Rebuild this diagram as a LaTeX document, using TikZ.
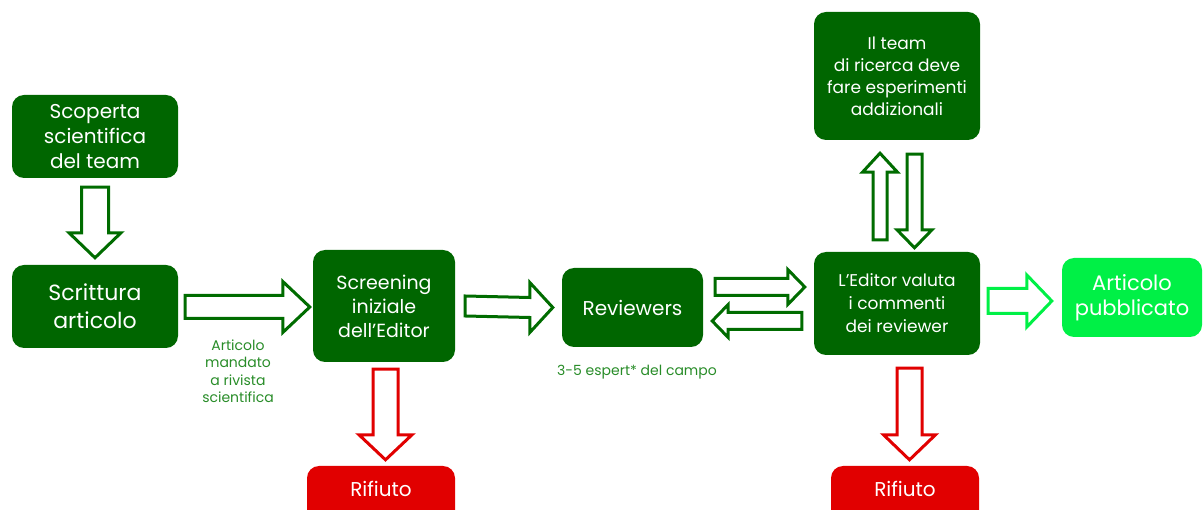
\documentclass[tikz,border=0pt]{standalone}
\usepackage{fontspec}
\setmainfont{Poppins}
\usetikzlibrary{calc}
\definecolor{dkgreen}{RGB}{0,102,0}
\definecolor{arrgreen}{RGB}{0,108,0}
\definecolor{labgreen}{RGB}{40,140,40}
\definecolor{brgreen}{RGB}{0,240,70}
\definecolor{rejred}{RGB}{225,0,0}
\tikzset{
  box/.style={rectangle, rounded corners=12pt, fill=dkgreen, text=white, align=center, inner sep=0pt},
  pubbox/.style={box, fill=brgreen},
  rejbox/.style={box, fill=rejred},
  garrow/.style={draw=arrgreen, line width=3pt, fill=white, line join=miter},
  barrowst/.style={draw=brgreen, line width=3pt, fill=white, line join=miter},
  rarrow/.style={draw=rejred, line width=3pt, fill=white, line join=miter},
  lab/.style={text=labgreen, align=center, inner sep=0pt}
}
% #1 style, #2 tail name, #3 tip name, #4 dx, #5 dy, #6 shaft half, #7 head half, #8 head length
\newcommand\blockarr[8]{%
  \draw[#1] ($(#2)+({-(#6)*(#5)},{(#6)*(#4)})$)
    -- ($(#3)+({-(#8)*(#4)-(#6)*(#5)},{-(#8)*(#5)+(#6)*(#4)})$)
    -- ($(#3)+({-(#8)*(#4)-(#7)*(#5)},{-(#8)*(#5)+(#7)*(#4)})$)
    -- (#3)
    -- ($(#3)+({-(#8)*(#4)+(#7)*(#5)},{-(#8)*(#5)-(#7)*(#4)})$)
    -- ($(#3)+({-(#8)*(#4)+(#6)*(#5)},{-(#8)*(#5)-(#6)*(#4)})$)
    -- ($(#2)+({(#6)*(#5)},{-(#6)*(#4)})$) -- cycle;}
\begin{document}
\begin{tikzpicture}[x=1pt,y=-1pt]
\useasboundingbox (0,0) rectangle (1203,510);
\clip (0,0) rectangle (1203,510);
% nodes
\node[box, minimum width=166, minimum height=83, font=\fontsize{20}{25}\selectfont] (scop) at (95,136.5) {Scoperta\\scientifica\\del team};
\node[box, minimum width=166, minimum height=83, font=\fontsize{22}{28}\selectfont] (scrit) at (95,306.5) {Scrittura\\articolo};
\node[box, minimum width=142, minimum height=112, font=\fontsize{19}{24}\selectfont] (screen) at (384,306) {Screening\\iniziale\\dell'Editor};
\node[box, minimum width=141, minimum height=79, font=\fontsize{20}{25}\selectfont] (rev) at (632.5,307.5) {Reviewers};
\node[box, minimum width=166, minimum height=103, font=\fontsize{17}{23}\selectfont] (edit) at (897,303.5) {L'Editor valuta\\i commenti\\dei reviewer};
\node[box, minimum width=166, minimum height=128, font=\fontsize{17}{22}\selectfont] (team) at (897,76) {Il team\\di ricerca deve\\fare esperimenti\\addizionali};
\node[pubbox, minimum width=140, minimum height=79, font=\fontsize{21}{25}\selectfont] (pub) at (1132,297.5) {Articolo\\pubblicato};
\node[rejbox, minimum width=148, minimum height=60, font=\fontsize{20}{25}\selectfont, text depth=0pt] (rif1) at (381,496) {};
\node[rejbox, minimum width=148, minimum height=60, font=\fontsize{20}{25}\selectfont] (rif2) at (905,496) {};
\node[text=white, font=\fontsize{20}{25}\selectfont, inner sep=0pt] (rif1t) at (381,489) {Rifiuto};
\node[text=white, font=\fontsize{20}{25}\selectfont, inner sep=0pt] (rif2t) at (905,489) {Rifiuto};
% labels
\node[lab, font=\fontsize{14}{17.5}\selectfont] (lab1) at (238,371) {Articolo\\mandato\\a rivista\\scientifica};
\node[lab, font=\fontsize{14}{17}\selectfont] (lab2) at (637,372) {3-5 espert* del campo};
% arrow end points
\coordinate (a1t) at ($(scop.south)+(0,9)$);
\coordinate (a1p) at ($(scrit.north)+(0,-7)$);
\coordinate (a2t) at ($(scrit.east)+(7,0.5)$);
\coordinate (a2p) at ($(screen.west)+(-3,1)$);
\coordinate (a3t) at ($(screen.east)+(10,0)$);
\coordinate (a3p) at ($(rev.west)+(-9,0)$);
\coordinate (a4t) at ($(rev.east)+(12,-20.5)$);
\coordinate (a4p) at ($(edit.west)+(-9,-16.5)$);
\coordinate (a5t) at ($(edit.west)+(-12,17.5)$);
\coordinate (a5p) at ($(rev.east)+(9,13.5)$);
\coordinate (a6t) at ($(screen.south)+(1.5,7)$);
\coordinate (a6p) at ($(rif1.north)+(4.5,-6)$);
\coordinate (a7t) at ($(edit.south)+(12.5,13)$);
\coordinate (a7p) at ($(rif2.north)+(4.5,-6)$);
\coordinate (a8t) at ($(edit.east)+(8,-2.5)$);
\coordinate (a8p) at ($(pub.west)+(-10,3.5)$);
\coordinate (a9t) at ($(edit.north)+(-17,-12)$);
\coordinate (a9p) at ($(team.south)+(-17,13)$);
\coordinate (a10t) at ($(team.south)+(17.5,14)$);
\coordinate (a10p) at ($(edit.north)+(17.5,-4)$);
% block arrows
\blockarr{garrow}{a1t}{a1p}{0}{1}{13.5}{26}{25}
\blockarr{garrow}{a2t}{a2p}{1}{0}{11.5}{25.5}{27}
\blockarr{garrow}{a3t}{a3p}{1}{0}{10}{25}{23}
\blockarr{garrow}{a4t}{a4p}{1}{0}{8.5}{17.5}{17}
\blockarr{garrow}{a5t}{a5p}{-1}{0}{8.5}{16.5}{16}
\blockarr{rarrow}{a6t}{a6p}{0}{1}{12.5}{26.5}{25}
\blockarr{rarrow}{a7t}{a7p}{0}{1}{12.5}{26}{25}
\blockarr{barrowst}{a8t}{a8p}{1}{0}{12.5}{26}{25}
\blockarr{garrow}{a9t}{a9p}{0}{-1}{7}{17.5}{19}
\blockarr{garrow}{a10t}{a10p}{0}{1}{7.5}{17.5}{18}
\end{tikzpicture}
\end{document}
